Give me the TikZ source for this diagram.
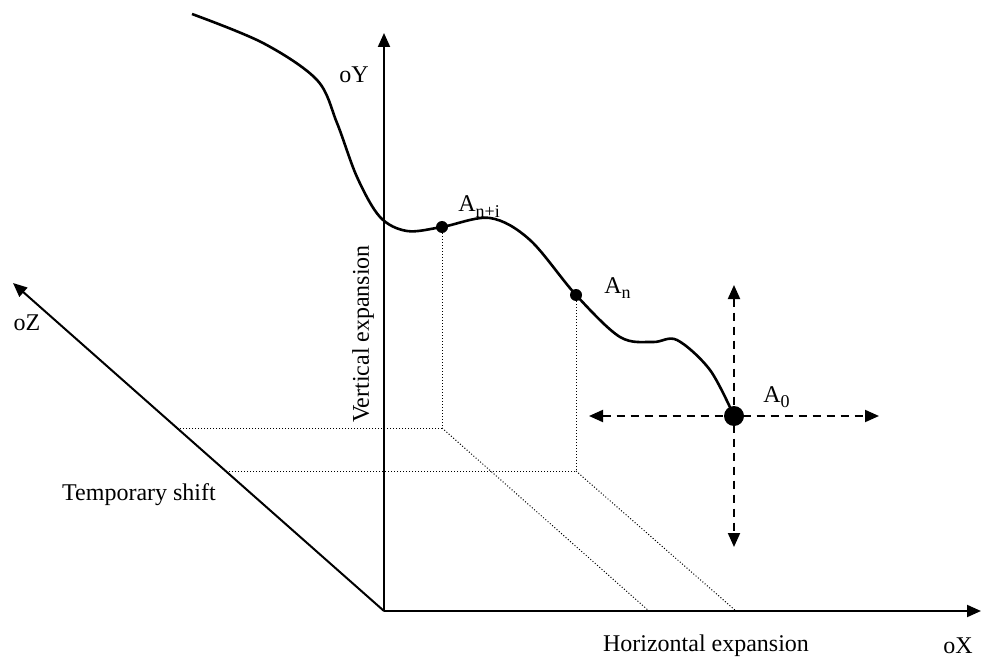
\documentclass[tikz,border=0pt]{standalone}
\usepackage{fontspec}
\setmainfont{Liberation Serif}
\usetikzlibrary{arrows.meta}
\begin{document}
\begin{tikzpicture}[x=0.5pt,y=-0.5pt,
  axis/.style={line width=1pt,-{Triangle[length=7pt,width=6pt]}},
  dasharrow/.style={line width=1pt,dash pattern=on 4pt off 3pt,{Triangle[length=7pt,width=6pt]}-{Triangle[length=7pt,width=6pt]}},
  guide/.style={line width=0.5pt,dash pattern=on 0.5pt off 1pt},
  curveline/.style={line width=1.3pt},
  lbl/.style={inner sep=0pt,font=\fontsize{12}{14}\selectfont},
  dot/.style={circle,fill=black,inner sep=0pt,minimum size=6pt},
  bigdot/.style={circle,fill=black,inner sep=0pt,minimum size=10pt}]
\useasboundingbox (0,0) rectangle (981,658);
% axes
\coordinate (O) at (384,611);
\coordinate (Xend) at (981,611);
\coordinate (Yend) at (384,33);
\coordinate (Zend) at (13,283);
\draw[axis] (O) -- (Xend);
\draw[axis] (O) -- (Yend);
\draw[axis] (O) -- (Zend);
% points
\node[dot] (Ani) at (442,227) {};
\node[dot] (An) at (576,295) {};
\node[bigdot] (A0) at (734,416) {};
% guide coordinates
\coordinate (Pni) at (442,428);
\coordinate (Zni) at (177,428);
\coordinate (Xni) at (649,611);
\coordinate (Pn) at (576,471);
\coordinate (Zn) at (225,471);
\coordinate (Xn) at (736,611);
\draw[guide] (Ani.center) -- (Pni) -- (Zni);
\draw[guide] (Pni) -- (Xni);
\draw[guide] (An.center) -- (Pn) -- (Zn);
\draw[guide] (Pn) -- (Xn);
% curve
\draw[curveline] plot[smooth,tension=0.55] coordinates {(192,14) (263,43) (317,80) (337,123) (357,177) (380,217) (407,231) (442,227) (490,218) (530,240) (576,295) (620,337) (653,342) (677,340) (710,370) (734,416)};
% dashed arrows
\coordinate (L) at (589,416);
\coordinate (R) at (879,416);
\coordinate (U) at (734,285);
\coordinate (D) at (734,547);
\draw[dasharrow] (L) -- (R);
\draw[dasharrow] (U) -- (D);
% labels
\node[lbl] (oY) at (354,75) {oY};
\node[lbl] (oZ) at (27,323) {oZ};
\node[lbl] (oX) at (958,646) {oX};
\node[lbl] (hx) at (706,646) {Horizontal expansion};
\node[lbl] (ts) at (139,495) {Temporary shift};
\node[lbl,rotate=90] (ve) at (363,334) {Vertical expansion};
\node[lbl,anchor=base west] (lAni) at (458,212) {A\lower0.5ex\hbox{\fontsize{9}{10}\selectfont n+i}};
\node[lbl,anchor=base west] (lAn) at (604,293) {A\lower0.5ex\hbox{\fontsize{9}{10}\selectfont n}};
\node[lbl,anchor=base west] (lA0) at (763,402) {A\lower0.5ex\hbox{\fontsize{9}{10}\selectfont 0}};
\end{tikzpicture}
\end{document}
